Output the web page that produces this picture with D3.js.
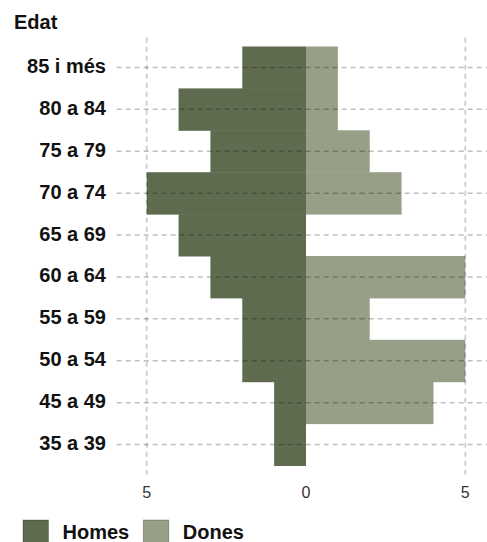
<!DOCTYPE html>
<html>
<head>
<meta charset="utf-8">
<script src="https://cdn.jsdelivr.net/npm/d3@7"></script>
<style>
  html, body { margin: 0; padding: 0; background: #fff; }
  svg { display: block; font-family: "Liberation Sans", Arial, sans-serif; }
</style>
</head>
<body>
<svg id="chart" width="487" height="542"></svg>
<script>
const categories = ["85 i més", "80 a 84", "75 a 79", "70 a 74", "65 a 69", "60 a 64", "55 a 59", "50 a 54", "45 a 49", "35 a 39"];
const homes = [2, 4, 3, 5, 4, 3, 2, 2, 1, 1];
const dones = [1, 1, 2, 3, 0, 5, 2, 5, 4, 0];
const xTicks = [-5, 0, 5];
const gridX = [-5, 5];
const seriesNames = ["Homes", "Dones"];
const colors = ["#5f6b4f", "#979f88"];

const svg = d3.select("#chart");
const x = d3.scaleLinear().domain([-5, 5]).range([146.7, 465.3]);
const y = d3.scaleBand().domain(categories).range([46.5, 465.5]).padding(0);

// bars
const g = svg.append("g");
g.selectAll("rect.h").data(categories).join("rect")
  .attr("class", "h")
  .attr("x", (d, i) => x(-homes[i]))
  .attr("y", d => y(d))
  .attr("width", (d, i) => x(0) - x(-homes[i]))
  .attr("height", y.bandwidth() + 0.5)
  .attr("fill", colors[0]);
g.selectAll("rect.d").data(categories).join("rect")
  .attr("class", "d")
  .attr("x", x(0))
  .attr("y", d => y(d))
  .attr("width", (d, i) => x(dones[i]) - x(0))
  .attr("height", y.bandwidth() + 0.5)
  .attr("fill", colors[1]);

// gridlines (on top)
svg.append("g").selectAll("line").data(categories).join("line")
  .attr("x1", 116.7).attr("x2", 487)
  .attr("y1", d => y(d) + y.bandwidth() / 2)
  .attr("y2", d => y(d) + y.bandwidth() / 2)
  .attr("stroke", "#000").attr("stroke-opacity", 0.25)
  .attr("stroke-width", 1.5).attr("stroke-dasharray", "5,4");
svg.append("g").selectAll("line").data(gridX).join("line")
  .attr("x1", d => x(d)).attr("x2", d => x(d))
  .attr("y1", 37.7).attr("y2", 475)
  .attr("stroke", "#000").attr("stroke-opacity", 0.2)
  .attr("stroke-width", 1.8).attr("stroke-dasharray", "5,4");

// category labels
svg.append("g").selectAll("text").data(categories).join("text")
  .attr("x", 106).attr("y", d => y(d) + y.bandwidth() / 2 + 5.5)
  .attr("text-anchor", "end")
  .attr("font-size", 20).attr("font-weight", "bold").attr("fill", "#111")
  .text(d => d);

// x tick labels
svg.append("g").selectAll("text").data(xTicks).join("text")
  .attr("x", d => x(d)).attr("y", 498)
  .attr("text-anchor", "middle")
  .attr("font-size", 16).attr("fill", "#333")
  .text(d => Math.abs(d));

// title
svg.append("text").attr("x", 14).attr("y", 28.5)
  .attr("font-size", 20).attr("font-weight", "bold").attr("fill", "#111")
  .text("Edat");

// legend
const legX = [23, 143.3];
const lg = svg.append("g").selectAll("g").data(seriesNames).join("g")
  .attr("transform", (d, i) => `translate(${legX[i]},520)`);
lg.append("rect").attr("width", 25.5).attr("height", 25.5)
  .attr("fill", (d, i) => colors[i])
  .attr("stroke", "#000").attr("stroke-opacity", 0.25).attr("stroke-width", 1);
lg.append("text").attr("x", 39.5).attr("y", 19)
  .attr("font-size", 20).attr("font-weight", "bold").attr("fill", "#111")
  .text(d => d);
</script>
</body>
</html>
